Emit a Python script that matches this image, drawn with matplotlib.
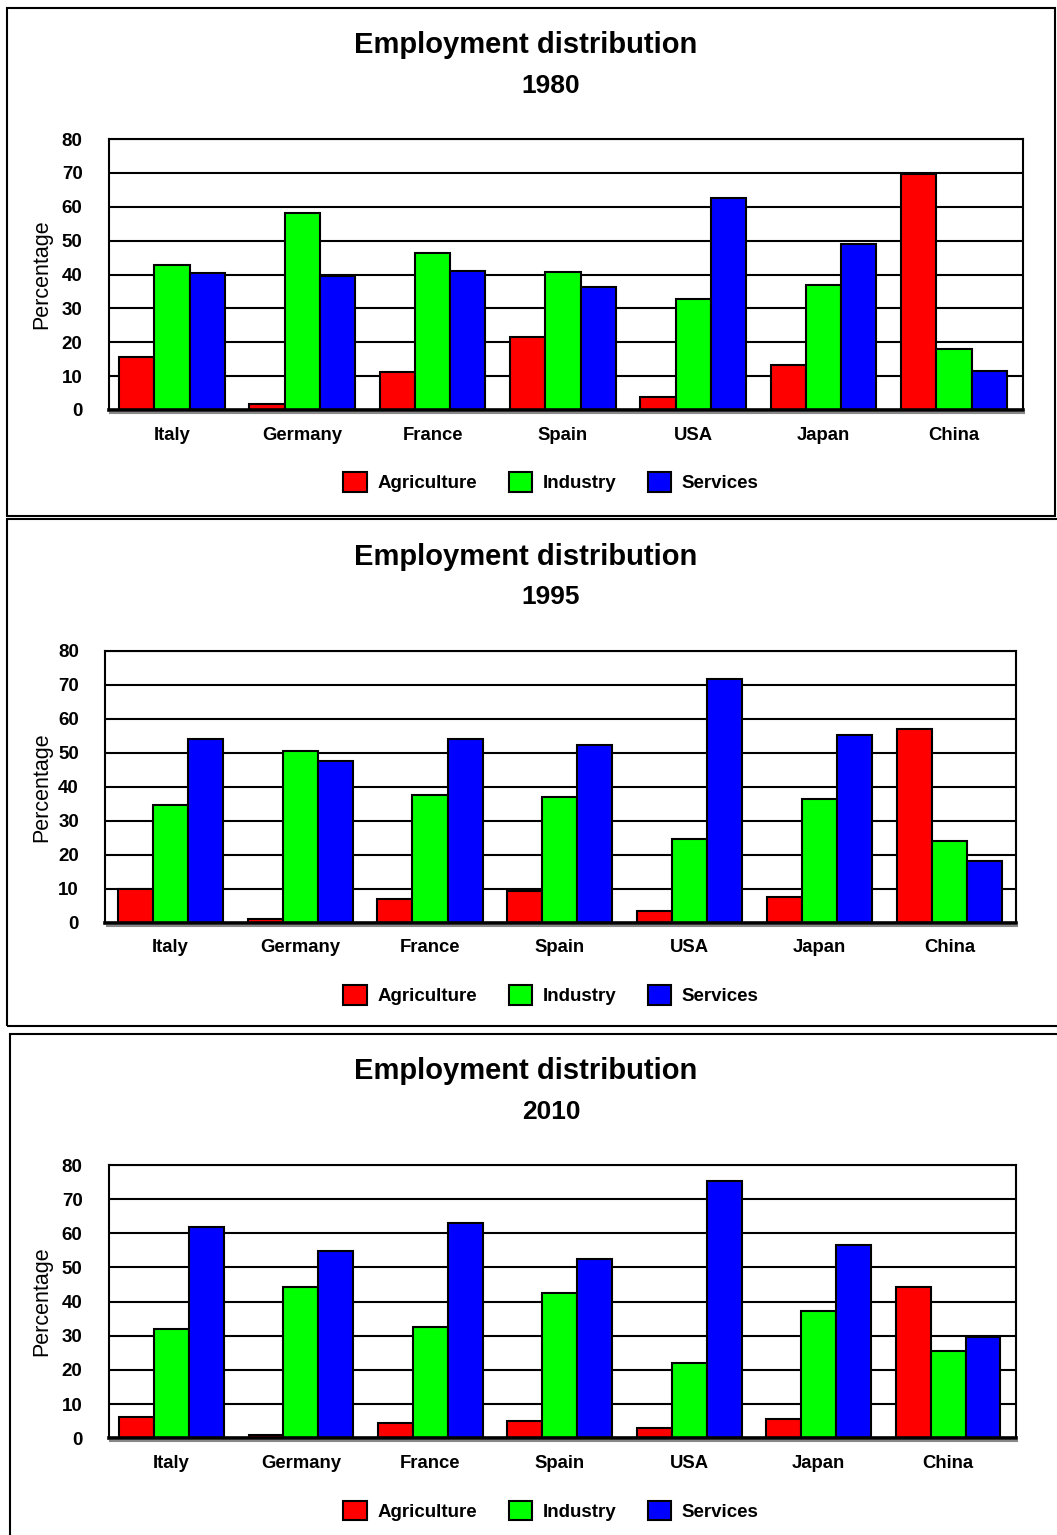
import numpy as np
import matplotlib.pyplot as plt
from matplotlib.patches import Rectangle
from matplotlib.transforms import offset_copy

plt.rcParams['font.family'] = ['Liberation Sans', 'DejaVu Sans']

# data
countries = ['Italy', 'Germany', 'France', 'Spain', 'USA', 'Japan', 'China']
sectors = ['Agriculture', 'Industry', 'Services']
colors = ['#ff0000', '#00ff00', '#0000ff']
years = ['1980', '1995', '2010']

agri_1980 = [15.7, 1.7, 11.2, 21.5, 3.9, 13.3, 69.6]
ind_1980 = [42.9, 58.2, 46.3, 40.8, 32.9, 37.0, 18.0]
serv_1980 = [40.5, 39.6, 41.0, 36.4, 62.5, 48.9, 11.6]

agri_1995 = [10.0, 1.2, 7.1, 9.4, 3.5, 7.6, 57.1]
ind_1995 = [34.7, 50.6, 37.6, 37.1, 24.7, 36.5, 24.1]
serv_1995 = [54.1, 47.6, 54.1, 52.4, 71.8, 55.3, 18.2]

agri_2010 = [6.3, 1.0, 4.6, 5.2, 2.9, 5.7, 44.4]
ind_2010 = [32.0, 44.4, 32.5, 42.6, 22.1, 37.3, 25.5]
serv_2010 = [61.9, 54.9, 63.1, 52.6, 75.4, 56.7, 29.7]

panels = [
    (years[0], [agri_1980, ind_1980, serv_1980]),
    (years[1], [agri_1995, ind_1995, serv_1995]),
    (years[2], [agri_2010, ind_2010, serv_2010]),
]

W, H = 1057, 1535
fig = plt.figure(figsize=(W / 100, H / 100), dpi=100)


def fx(x):
    return x / W


def fy(y):
    return 1 - y / H


# axes boxes in pixels: left, top, right, bottom, and x limits
boxes = [
    (109, 139, 1023, 410, (-0.483, 6.53)),
    (105.3, 650.7, 1015.7, 922.7, (-0.50, 6.51)),
    (109, 1165, 1016, 1438.3, (-0.483, 6.525)),
]
frames = [(7, 8, 1055, 516), (7, 519, 1062, 1026), (9.5, 1034, 1062, 1540)]

x = np.arange(len(countries))
bw = 0.27

for (year, series), (l, t, r, b, xl), fr in zip(panels, boxes, frames):
    ax = fig.add_axes([fx(l), fy(b), fx(r) - fx(l), (b - t) / H])
    for i, vals in enumerate(series):
        ax.bar(x + (i - 1) * bw, vals, bw, color=colors[i], edgecolor='black',
               linewidth=1.5, label=sectors[i], zorder=3)
    ax.set_xlim(*xl)
    ax.set_ylim(0, 80)
    ax.set_yticks(range(0, 81, 10))
    ax.set_xticks(x)
    ax.set_xticklabels(countries, fontsize=13.3, fontweight='bold')
    ax.tick_params(axis='y', length=0, pad=19, labelsize=13.5)
    ax.tick_params(axis='x', length=0, pad=12)
    for lab in ax.get_yticklabels():
        lab.set_fontweight('bold')
    ax.grid(axis='y', color='black', linewidth=1.5, zorder=1)
    ax.set_axisbelow(True)
    for s in ['top', 'left', 'right']:
        ax.spines[s].set_linewidth(1.5)
    ax.spines['bottom'].set_linewidth(2.6)
    ax.spines['bottom'].set_zorder(4)
    shadow = offset_copy(ax.transAxes, fig=fig, x=1, y=-2.2, units='points')
    ax.plot([0, 1], [0, 0], transform=shadow, color='#888888', lw=1.5,
            clip_on=False, zorder=2)
    ax.set_ylabel('Percentage', fontsize=15.5)
    ax.yaxis.set_label_coords((52 - l) / (r - l), 0.5)

    fig.text(fx(526), fy(t - 86), 'Employment distribution', ha='center',
             va='baseline', fontsize=21, fontweight='bold')
    fig.text(fx(551), fy(t - 46.3), year, ha='center', va='baseline',
             fontsize=19, fontweight='bold')

    ax.legend(loc='center', bbox_to_anchor=(fx(551), fy(b + 72.3)),
              bbox_transform=fig.transFigure, ncol=3, frameon=False,
              prop={'size': 13.5, 'weight': 'bold'}, handlelength=1.23,
              handleheight=1.23, handletextpad=0.57, columnspacing=1.7,
              borderpad=0)

    fig.add_artist(Rectangle((fx(fr[0]), fy(fr[3])), fx(fr[2]) - fx(fr[0]),
                             (fr[3] - fr[1]) / H, transform=fig.transFigure,
                             fill=False, edgecolor='black', linewidth=1.5))

fig.savefig('out.png', dpi=100)
